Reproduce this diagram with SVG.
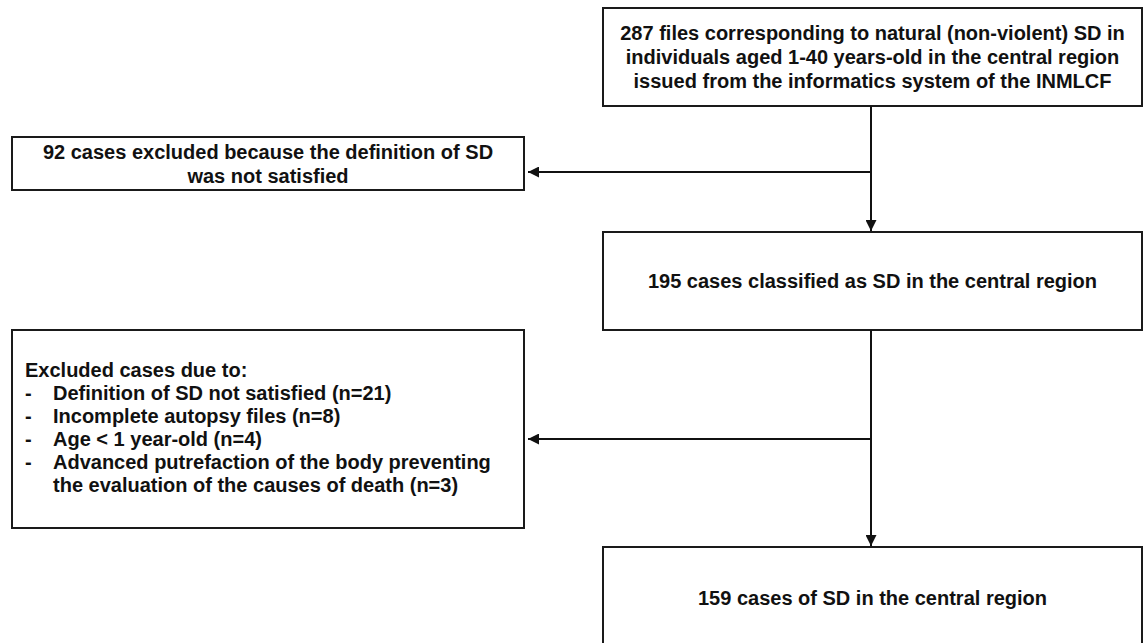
<svg xmlns="http://www.w3.org/2000/svg" width="1146" height="643" viewBox="0 0 1146 643">
<style>
.box{fill:#fff;stroke:#1a1a1a;stroke-width:2}
text{font-family:"Liberation Sans",Arial,sans-serif;font-weight:bold;font-size:20px;fill:#111}
.c{text-anchor:middle}
.conn{stroke:#111;stroke-width:2;fill:none}
</style>
<defs>
<marker id="ah" viewBox="0 0 10 10" refX="10" refY="5" markerWidth="11" markerHeight="11" markerUnits="userSpaceOnUse" orient="auto">
<path d="M0,0 L10,5 L0,10 z" fill="#111"/>
</marker>
</defs>
<rect width="1146" height="643" fill="#fff"/>
<g id="n1">
<rect class="box" x="603" y="8" width="539" height="98"/>
<text class="c" x="872.5" y="40">287 files corresponding to natural (non-violent) SD in</text>
<text class="c" x="872.5" y="64">individuals aged 1-40 years-old in the central region</text>
<text class="c" x="872.5" y="88">issued from the informatics system of the INMLCF</text>
</g>
<g id="n2">
<rect class="box" x="12" y="137" width="512" height="53"/>
<text class="c" x="268" y="159">92 cases excluded because the definition of SD</text>
<text class="c" x="268" y="183">was not satisfied</text>
</g>
<g id="n3">
<rect class="box" x="603" y="232" width="539" height="98"/>
<text class="c" x="872.5" y="288">195 cases classified as SD in the central region</text>
</g>
<g id="n4">
<rect class="box" x="12" y="330" width="512" height="198"/>
<text x="25" y="377">Excluded cases due to:</text>
<text x="25" y="400">-</text><text x="53" y="400">Definition of SD not satisfied (n=21)</text>
<text x="25" y="423">-</text><text x="53" y="423">Incomplete autopsy files (n=8)</text>
<text x="25" y="446">-</text><text x="53" y="446">Age &lt; 1 year-old (n=4)</text>
<text x="25" y="469">-</text><text x="53" y="469">Advanced putrefaction of the body preventing</text>
<text x="53" y="492">the evaluation of the causes of death (n=3)</text>
</g>
<g id="n5">
<rect class="box" x="603" y="547" width="539" height="110"/>
<text class="c" x="872.5" y="605">159 cases of SD in the central region</text>
</g>
<g id="connectors">
<line class="conn" x1="871" y1="106" x2="871" y2="231" marker-end="url(#ah)"/>
<line class="conn" x1="871" y1="172" x2="528" y2="172" marker-end="url(#ah)"/>
<line class="conn" x1="871" y1="330" x2="871" y2="546" marker-end="url(#ah)"/>
<line class="conn" x1="871" y1="439" x2="528" y2="439" marker-end="url(#ah)"/>
</g>
</svg>
